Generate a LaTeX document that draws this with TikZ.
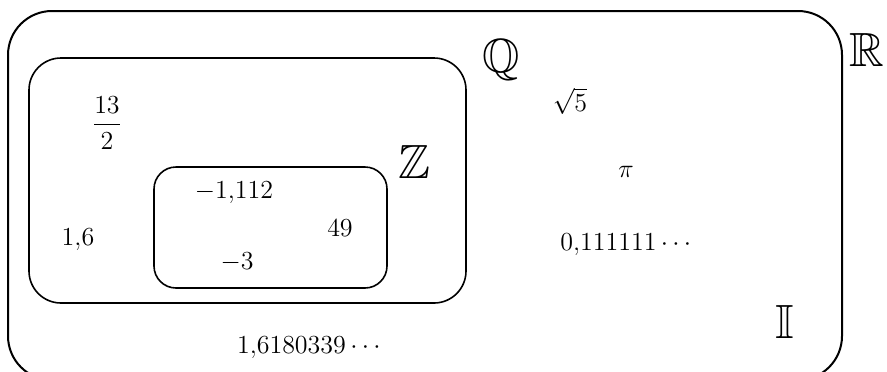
\documentclass[tikz,border=0pt]{standalone}
\usepackage{fix-cm}
\usepackage{amsmath,amssymb}
\usepackage{tikz}

\begin{document}
\begin{tikzpicture}[x=0.5pt, y=-0.5pt,
        set/.style={draw, thick, rounded corners=#1, inner sep=0pt},
        elem/.style={font=\fontsize{13}{15}\selectfont},
        setname/.style={font=\fontsize{24}{28}\selectfont}]

        \useasboundingbox (0,0) rectangle (887,371);

        % the three sets
        \node (real) [set=22pt, line width=1pt, minimum width=417pt, minimum height=184.5pt] at (425,195.5) {};
        \node (rational) [set=16pt, minimum width=218.5pt, minimum height=122.5pt] at (247.5,180.5) {};
        \node (integer) [set=11pt, minimum width=116.5pt, minimum height=60.5pt] at (270.5,227.5) {};

        % names of the sets
        \node (Rname) [setname] at (867,50) {$\mathbb{R}$};
        \node (Qname) [setname] at (501,60) {$\mathbb{Q}$};
        \node (Zname) [setname] at (414,162) {$\mathbb{Z}$};
        \node (Iname) [setname] at (785,322) {$\mathbb{I}$};

        % elements
        \node (half) [elem] at (107,123) {$\dfrac{13}{2}$};
        \node (onesix) [elem] at (78,240) {$1{,}6$};
        \node (negdec) [elem] at (234,193) {$-1{,}112$};
        \node (fortynine) [elem] at (340,228) {$49$};
        \node (negthree) [elem] at (237,262) {$-3$};
        \node (golden) [elem] at (311,348) {$1{,}6180339\cdots$};
        \node (rootfive) [elem] at (570,101) {$\sqrt{5}$};
        \node (pi) [elem] at (626,172) {$\pi$};
        \node (repeat) [elem] at (628,245) {$0{,}111111\cdots$};

\end{tikzpicture}
\end{document}
